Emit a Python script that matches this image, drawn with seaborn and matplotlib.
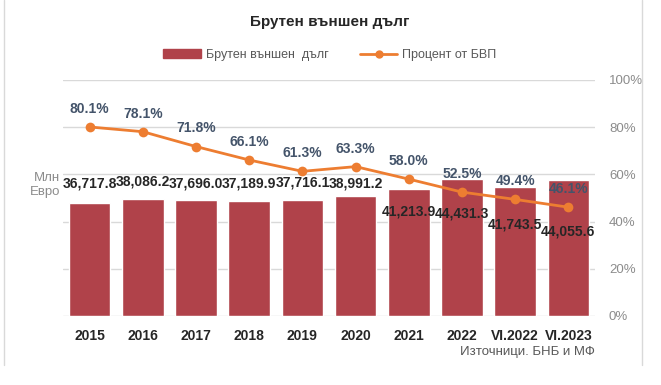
import matplotlib
matplotlib.use("Agg")
import matplotlib.pyplot as plt
import seaborn as sns
import pandas as pd
from matplotlib.lines import Line2D

# data
periods = ["2015", "2016", "2017", "2018", "2019", "2020", "2021", "2022", "VI.2022", "VI.2023"]
debt_mln_eur = [36717.8, 38086.2, 37696.0, 37189.9, 37716.1, 38991.2, 41213.9, 44431.3, 41743.5, 44055.6]
pct_of_gdp = [80.1, 78.1, 71.8, 66.1, 61.3, 63.3, 58.0, 52.5, 49.4, 46.1]

# vertical offset (points) of each debt label from its bar top
debt_label_offset = [14, 12, 12, 13, 12, 9, -16, -25, -27, -37]

df = pd.DataFrame({"period": periods, "debt": debt_mln_eur, "pct": pct_of_gdp})
df["pos"] = range(len(df))

sns.set_theme(style="white")
plt.rcParams["font.family"] = ["Liberation Sans", "DejaVu Sans"]

bar_color = "#B0424A"
line_color = "#ED7D31"
pct_color = "#44546A"
grey = "#8C8C8C"
ymax = 76500

fig = plt.figure(figsize=(6.61, 3.85), dpi=100)
ax = fig.add_axes([63 / 661, 1 - 316 / 385, (595 - 63) / 661, (316 - 80) / 385])

for t in [0, 20, 40, 60, 80, 100]:
    ax.axhline(t / 100 * ymax, color="#D9D9D9", linewidth=1, zorder=0)

sns.barplot(data=df, x="period", y="debt", color=bar_color, width=0.78,
            saturation=1, ax=ax, zorder=2)
ax.set_ylim(0, ymax)
ax.set_xlim(-0.5, len(df) - 0.5)
ax.set_yticks([])
ax.set_xlabel("")
ax.set_ylabel("")
for s in ax.spines.values():
    s.set_visible(False)
ax.tick_params(axis="x", length=0, pad=9)
for lbl in ax.get_xticklabels():
    lbl.set_fontweight("bold")
    lbl.set_fontsize(10)
    lbl.set_color("#262626")

# right percent axis
ax2 = ax.twinx()
ax2.set_ylim(0, 100)
ax2.set_yticks([0, 20, 40, 60, 80, 100])
ax2.set_yticklabels([f"{t}%" for t in [0, 20, 40, 60, 80, 100]], color=grey, fontsize=9.5)
ax2.tick_params(axis="y", length=0, pad=10)
for s in ax2.spines.values():
    s.set_visible(False)
ax.set_zorder(ax2.get_zorder() + 1)
ax.patch.set_visible(False)

# line drawn on ax, rescaled to the percent axis
scale = ymax / 100
df["pct_scaled"] = df["pct"] * scale
sns.lineplot(data=df, x="pos", y="pct_scaled", color=line_color, marker="o",
             markersize=7, markeredgewidth=0, linewidth=2, ax=ax, zorder=4)
ax.set_xlabel("")
ax.set_ylabel("")

for i, row in df.iterrows():
    ax.annotate(f"{row['pct']:.1f}%", (row["pos"], row["pct_scaled"]),
                xytext=(0, 13), textcoords="offset points", ha="center", va="center",
                fontsize=10, fontweight="bold", color=pct_color, zorder=6)
    ax.annotate(f"{row['debt']:,.1f}", (row["pos"], row["debt"]),
                xytext=(0, debt_label_offset[i]), textcoords="offset points",
                ha="center", va="center", fontsize=10, fontweight="bold",
                color="#262626", zorder=5)

fig.text(330 / 661, 1 - 22 / 385, "Брутен външен дълг", ha="center", va="center",
         fontsize=11, fontweight="bold", color="#262626")

handles = [plt.Rectangle((0, 0), 1, 1, color=bar_color),
           Line2D([0], [0], color=line_color, marker="o", markersize=5, linewidth=2)]
fig.legend(handles, ["Брутен външен  дълг", "Процент от БВП"], loc="center",
           bbox_to_anchor=(330 / 661, 1 - 55 / 385), ncol=2, frameon=False,
           fontsize=9, labelcolor="#595959", handlelength=3, columnspacing=2.5,
           handletextpad=0.4)

fig.text(60 / 661, 1 - 185 / 385, "Млн\nЕвро", ha="right", va="center",
         fontsize=9.5, color=grey, linespacing=1.3)
fig.text(595 / 661, 1 - 352 / 385, "Източници. БНБ и МФ", ha="right", va="center",
         fontsize=9.5, color="#595959")

# outer frame of the original screenshot
fig.add_artist(Line2D([4 / 661, 4 / 661], [1 - 365 / 385, 1], color="#D9D9D9", lw=1))
fig.add_artist(Line2D([642 / 661, 642 / 661], [1 - 365 / 385, 1], color="#D9D9D9", lw=1))

fig.savefig("out.png", dpi=100)
